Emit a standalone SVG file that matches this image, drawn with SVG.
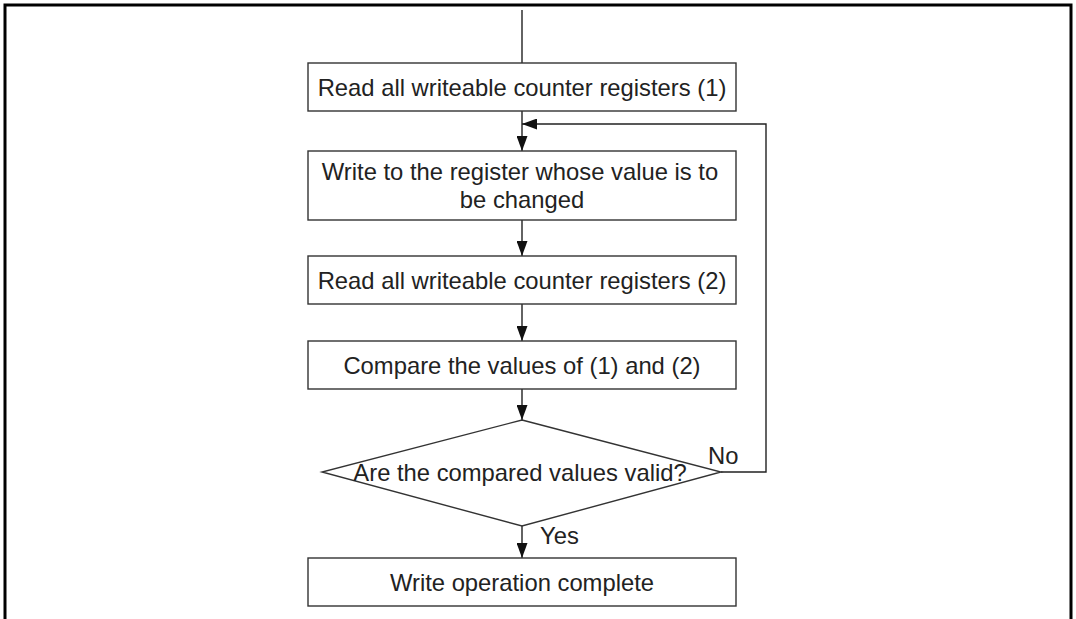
<svg xmlns="http://www.w3.org/2000/svg" width="1076" height="619" viewBox="0 0 1076 619">
<style>
.box{fill:#fff;stroke:#333;stroke-width:1.4}
.ln{fill:none;stroke:#222;stroke-width:1.4}
.t{font-family:"Liberation Sans",Arial,sans-serif;font-size:23.8px;fill:#222;text-anchor:middle}
.l{font-family:"Liberation Sans",Arial,sans-serif;font-size:23.8px;fill:#222}
</style>
<defs>
<marker id="ah" markerWidth="15" markerHeight="11" refX="15" refY="5.5" viewBox="0 0 15 11" orient="auto" markerUnits="userSpaceOnUse">
<path d="M0,0 L15,5.5 L0,11 Z" fill="#111"/>
</marker>
</defs>
<path d="M5,619 V5 H1071 V619" fill="none" stroke="#000" stroke-width="3"/>
<g id="connectors">
<line class="ln" x1="522" y1="10" x2="522" y2="63"/>
<line class="ln" x1="522" y1="111" x2="522" y2="151" marker-end="url(#ah)"/>
<polyline class="ln" points="721,472 766,472 766,124 522,124" marker-end="url(#ah)"/>
<line class="ln" x1="522" y1="220" x2="522" y2="256" marker-end="url(#ah)"/>
<line class="ln" x1="522" y1="304" x2="522" y2="341" marker-end="url(#ah)"/>
<line class="ln" x1="522" y1="389" x2="522" y2="420" marker-end="url(#ah)"/>
<line class="ln" x1="522" y1="526" x2="522" y2="558" marker-end="url(#ah)"/>
<text class="l" x="708" y="464">No</text>
<text class="l" x="540" y="544">Yes</text>
</g>
<g id="n1"><rect class="box" x="308" y="63" width="428" height="48"/><text class="t" x="522" y="96">Read all writeable counter registers (1)</text></g>
<g id="n2"><rect class="box" x="308" y="151" width="428" height="69"/><text class="t" x="520" y="180">Write to the register whose value is to</text><text class="t" x="522" y="208">be changed</text></g>
<g id="n3"><rect class="box" x="308" y="256" width="428" height="48"/><text class="t" x="522" y="289">Read all writeable counter registers (2)</text></g>
<g id="n4"><rect class="box" x="308" y="341" width="428" height="48"/><text class="t" x="522" y="374">Compare the values of (1) and (2)</text></g>
<g id="n5"><polygon class="box" points="522,420 721,472 522,526 322,472"/><text class="t" x="520" y="481">Are the compared values valid?</text></g>
<g id="n6"><rect class="box" x="308" y="558" width="428" height="48"/><text class="t" x="522" y="591">Write operation complete</text></g>
</svg>
